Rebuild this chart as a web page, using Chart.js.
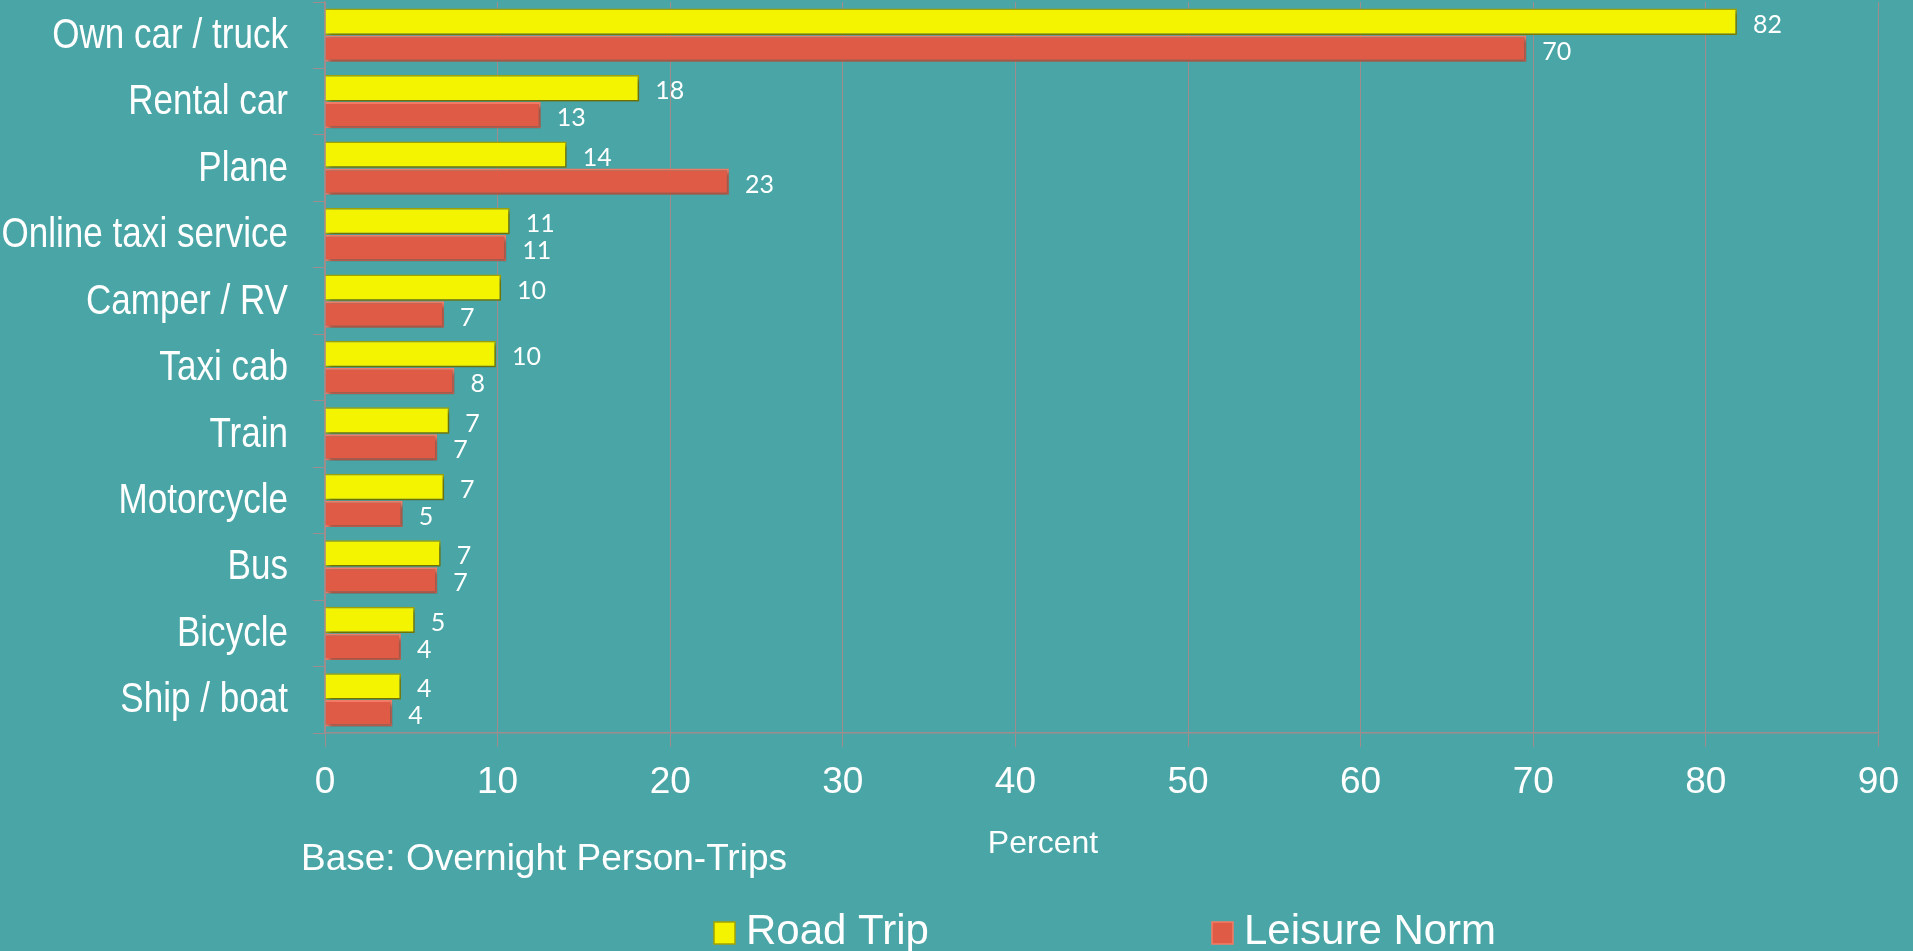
<!DOCTYPE html>
<html>
<head>
<meta charset="utf-8">
<script src="https://cdn.jsdelivr.net/npm/chart.js@4/dist/chart.umd.min.js"></script>
<style>
    html, body { margin: 0; padding: 0; background: #4AA6A6; }
    #wrap { width: 1913px; height: 951px; position: relative; }
</style>
</head>
<body>
<div id="wrap"><canvas id="modes"></canvas></div>
<script>
"use strict";

const categories = ['Own car / truck', 'Rental car', 'Plane', 'Online taxi service', 'Camper / RV',
    'Taxi cab', 'Train', 'Motorcycle', 'Bus', 'Bicycle', 'Ship / boat'];
const roadTrip = [81.8, 18.2, 14.0, 10.7, 10.2, 9.9, 7.2, 6.9, 6.7, 5.2, 4.4];
const leisureNorm = [69.6, 12.5, 23.4, 10.5, 6.9, 7.5, 6.5, 4.5, 6.5, 4.4, 3.9];
const xTicks = [0, 10, 20, 30, 40, 50, 60, 70, 80, 90];

const WHITE = '#FFFFFF';
const GRID = '#A08C8C';
const SANS = "'Liberation Sans', Arial, sans-serif";

// shadows under the bars, value labels, condensed category labels, legend and footnote
const decorPlugin = {
    id: 'decor',
    beforeDatasetsDraw(chart) {
        const ctx = chart.ctx;
        ctx.save();
        ctx.shadowColor = 'rgba(0,0,0,0.35)';
        ctx.shadowBlur = 4;
        ctx.shadowOffsetX = 3;
        ctx.shadowOffsetY = 3;
    },
    afterDatasetsDraw(chart) {
        const ctx = chart.ctx;
        ctx.restore();
        ctx.save();
        ctx.fillStyle = WHITE;
        ctx.font = "25px Lato, 'Open Sans', sans-serif";
        ctx.textAlign = 'left';
        ctx.textBaseline = 'middle';
        chart.data.datasets.forEach((ds, i) => {
            chart.getDatasetMeta(i).data.forEach((bar, j) => {
                ctx.fillText(String(Math.round(ds.data[j])), bar.x + 16, bar.y + 3);
            });
        });
        ctx.restore();
    },
    afterDraw(chart) {
        const ctx = chart.ctx;
        const yScale = chart.scales.y;
        ctx.save();
        ctx.fillStyle = WHITE;

        // no narrow font installed, so squeeze Liberation Sans
        ctx.font = '42px ' + SANS;
        ctx.textAlign = 'right';
        ctx.textBaseline = 'middle';
        chart.data.labels.forEach((lab, i) => {
            ctx.save();
            ctx.translate(288, yScale.getPixelForTick(i) + 1);
            ctx.scale(0.835, 1);
            ctx.fillText(lab, 0, 0);
            ctx.restore();
        });

        ctx.textBaseline = 'alphabetic';
        ctx.textAlign = 'left';
        ctx.font = '37px ' + SANS;
        ctx.fillText('Base: Overnight Person-Trips', 301, 870);
        ctx.textAlign = 'center';
        ctx.font = '32px ' + SANS;
        ctx.fillText('Percent', 1043, 853);

        const legendX = [714, 1212];
        ctx.textAlign = 'left';
        ctx.font = '42px ' + SANS;
        chart.data.datasets.forEach((ds, i) => {
            const x = legendX[i];
            ctx.fillStyle = ds.backgroundColor;
            ctx.strokeStyle = ds.borderColor;
            ctx.lineWidth = 1.5;
            ctx.fillRect(x, 922, 21, 22);
            ctx.strokeRect(x, 922, 21, 22);
            ctx.fillStyle = WHITE;
            ctx.fillText(ds.label, x + 32, 944);
        });
        ctx.restore();
    }
};

new Chart(document.getElementById('modes'), {
    type: 'bar',
    data: {
        labels: categories,
        datasets: [{
            label: 'Road Trip',
            data: roadTrip,
            backgroundColor: '#F4F400',
            borderColor: '#A3A300',
            borderWidth: 1.5,
            categoryPercentage: 0.81,
            barPercentage: 0.98
        }, {
            label: 'Leisure Norm',
            data: leisureNorm,
            backgroundColor: '#E05B45',
            borderColor: '#F47C66',
            borderWidth: 2,
            categoryPercentage: 0.81,
            barPercentage: 0.98
        }]
    },
    options: {
        indexAxis: 'y',
        responsive: true,
        maintainAspectRatio: false,
        animation: false,
        layout: { padding: { top: 2, right: 30, left: 0, bottom: 0 } },
        plugins: {
            legend: { display: false },
            tooltip: { enabled: false }
        },
        scales: {
            x: {
                min: 0,
                max: 90,
                afterBuildTicks: (scale) => { scale.ticks = xTicks.map(v => ({ value: v })); },
                afterFit: (scale) => { scale.height = 218; },
                grid: { color: GRID, lineWidth: 1, tickLength: 14 },
                border: { color: GRID, width: 1.5 },
                ticks: { color: WHITE, font: { family: SANS, size: 37 }, padding: 14, maxRotation: 0 }
            },
            y: {
                afterFit: (scale) => { scale.width = 325; },
                grid: { color: GRID, drawOnChartArea: false, tickLength: 12, offset: true },
                border: { color: GRID, width: 1.5 },
                ticks: { display: false }
            }
        }
    },
    plugins: [decorPlugin]
});
</script>
</body>
</html>
